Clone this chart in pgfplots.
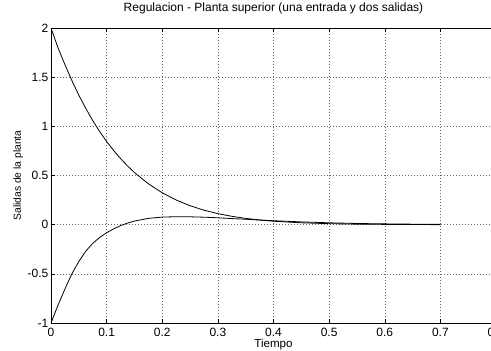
\documentclass[border=0pt]{standalone}
\usepackage{fontspec}
\setmainfont{Liberation Sans}
\usepackage{pgfplots}
\pgfplotsset{compat=1.18}
\begin{document}
\begin{tikzpicture}
\begin{axis}[
  at={(0,0)}, anchor=south west,
  scale only axis, width=445bp, height=295bp,
  xmin=0, xmax=0.8, ymin=-1, ymax=2,
  xtick={0,0.1,0.2,0.3,0.4,0.5,0.6,0.7,0.8},
  ytick={-1,-0.5,0,0.5,1,1.5,2},
  xticklabels={0,0.1,0.2,0.3,0.4,0.5,0.6,0.7,0.8},
  yticklabels={-1,-0.5,0,0.5,1,1.5,2},
  grid=major,
  major grid style={black!60, line width=0.5bp, dash pattern=on 0.8bp off 2.2bp},
  axis line style={black, line width=0.7bp},
  tick align=inside, major tick length=4bp,
  tick style={black, line width=0.5bp},
  xtick pos=both, ytick pos=both,
  /pgf/number format/assume math mode=true,
  ticklabel style={font=\fontsize{12bp}{14bp}\selectfont, inner sep=0pt},
  xticklabel style={anchor=base, yshift=-13bp},
  yticklabel style={anchor=east, xshift=-2.5bp},
  title={Regulacion - Planta superior (una entrada y dos salidas)},
  title style={at={(0.5,1)}, anchor=base, yshift=10.5bp, inner sep=0pt, font=\fontsize{12bp}{14bp}\selectfont},
  xlabel={Tiempo},
  xlabel style={at={(0.5,0)}, anchor=base, yshift=-24.5bp, inner sep=0pt, font=\fontsize{11.6bp}{14bp}\selectfont},
  ylabel={Salidas de la planta},
  ylabel style={rotate=-90, xshift=-30bp, rotate=90, at={(0,0.5)}, anchor=base, inner sep=0pt, font=\fontsize{10.3bp}{12bp}\selectfont},
]
\addplot[black, line width=0.8bp] coordinates {
(0,2) (0.0125,1.80) (0.025,1.628) (0.0375,1.466) (0.05,1.317) (0.0625,1.183) (0.075,1.059) (0.0875,0.947)
(0.1,0.846) (0.1125,0.755) (0.125,0.672) (0.1375,0.598) (0.15,0.530) (0.175,0.416) (0.2,0.324)
(0.225,0.251) (0.25,0.193) (0.275,0.147) (0.3,0.112) (0.325,0.085) (0.35,0.064) (0.375,0.048)
(0.4,0.035) (0.45,0.019) (0.5,0.010) (0.55,0.005) (0.6,0.003) (0.65,0.001) (0.7,0.0005)
};
\addplot[black, line width=0.8bp] coordinates {
(0,-1) (0.0125,-0.82) (0.025,-0.655) (0.0375,-0.50) (0.05,-0.375) (0.0625,-0.27) (0.075,-0.19)
(0.0875,-0.13) (0.1,-0.082) (0.1125,-0.043) (0.125,-0.01) (0.1375,0.016) (0.15,0.037) (0.175,0.064)
(0.2,0.077) (0.225,0.081) (0.25,0.080) (0.275,0.076) (0.3,0.070) (0.325,0.062) (0.35,0.055)
(0.375,0.047) (0.4,0.040) (0.45,0.028) (0.5,0.019) (0.55,0.012) (0.6,0.008) (0.65,0.005) (0.7,0.003)
};
\end{axis}
\pgfresetboundingbox
\path[use as bounding box] (-51bp,-28bp) rectangle (440bp,323bp);
\end{tikzpicture}
\end{document}
